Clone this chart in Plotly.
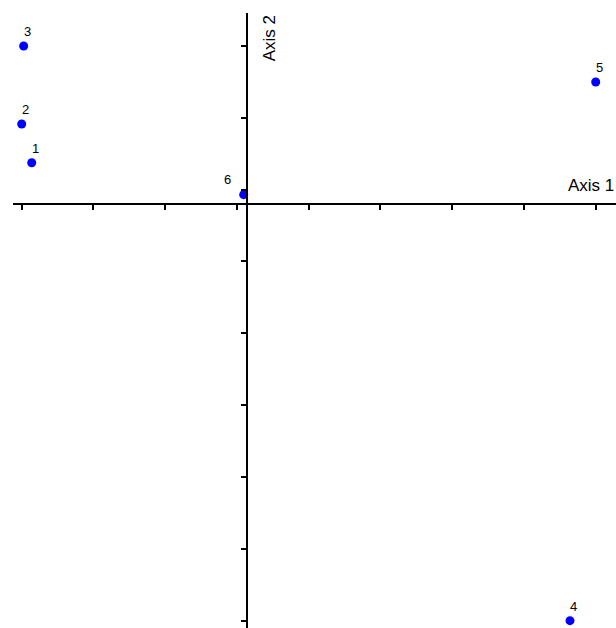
import plotly.graph_objects as go

# Data (arbitrary units, equal scale on both axes)
labels = ["1", "2", "3", "4", "5", "6"]
axis1 = [-2.994, -3.133, -3.106, 4.482, 4.839, -0.050]
axis2 = [0.576, 1.116, 2.204, -5.812, 1.702, 0.130]

x_ticks = [-3.133, -2.137, -1.140, -0.144, 0.853, 1.849, 2.846, 3.842, 4.839]
y_ticks = [-5.812, -4.810, -3.808, -2.806, -1.804, -0.802, 0.200, 1.202, 2.204]

x_range = [-3.254, 5.121]
y_range = [-5.914, 2.664]

FONT = "Arial, Liberation Sans, Helvetica, sans-serif"

fig = go.Figure()
fig.add_trace(go.Scatter(
    x=axis1, y=axis2, mode="markers",
    marker=dict(color="#0000FF", size=9, line=dict(width=0)),
    hoverinfo="skip", showlegend=False,
))

# point labels
for lab, xv, yv in zip(labels, axis1, axis2):
    if lab == "6":
        xs, ys = -16, 15
    else:
        xs, ys = 4, 14
    fig.add_annotation(x=xv, y=yv, text=lab, showarrow=False,
                       xshift=xs, yshift=ys, font=dict(family=FONT, size=13, color="black"))

# axis titles
fig.add_annotation(x=x_range[1], y=0, xref="x", yref="y", text="Axis 1", showarrow=False,
                   xanchor="right", yanchor="bottom", xshift=0, yshift=7,
                   font=dict(family=FONT, size=17, color="black"))
fig.add_annotation(x=0, y=y_range[1], xref="x", yref="y", text="Axis 2", showarrow=False,
                   textangle=-90, xanchor="center", yanchor="top", xshift=22, yshift=0,
                   font=dict(family=FONT, size=17, color="black"))

xpos = (0 - y_range[0]) / (y_range[1] - y_range[0])
ypos = (0 - x_range[0]) / (x_range[1] - x_range[0])

fig.update_layout(
    width=616, height=628,
    margin=dict(l=13, r=0, t=13, b=0),
    paper_bgcolor="white", plot_bgcolor="white",
    xaxis=dict(range=x_range, anchor="free", position=xpos, showline=True,
               linecolor="black", linewidth=2, ticks="outside", ticklen=5,
               tickwidth=2, tickcolor="black", tickvals=x_ticks, showticklabels=False,
               showgrid=False, zeroline=False),
    yaxis=dict(range=y_range, anchor="free", position=ypos, showline=True,
               linecolor="black", linewidth=2, ticks="outside", ticklen=5,
               tickwidth=2, tickcolor="black", tickvals=y_ticks, showticklabels=False,
               showgrid=False, zeroline=False),
)

fig.write_html(
    "out.html",
    config={"displayModeBar": False},
    post_script="document.body.style.margin='0';document.body.style.overflow='hidden';",
)
